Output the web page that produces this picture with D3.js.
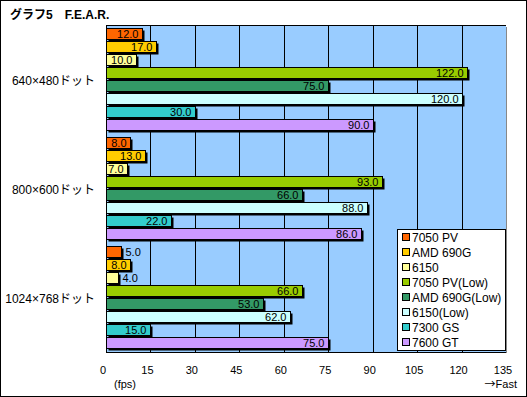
<!DOCTYPE html>
<html><head><meta charset="utf-8">
<script src="https://cdn.jsdelivr.net/npm/d3@7"></script>
<style>body{margin:0;background:#fff;}svg{display:block;}text{font-family:"Liberation Sans","Noto Sans CJK JP",sans-serif;}</style>
</head><body>
<script>
const categories = ["640×480ドット", "800×600ドット", "1024×768ドット"];
const series = ["7050 PV", "AMD 690G", "6150", "7050 PV(Low)", "AMD 690G(Low)", "6150(Low)", "7300 GS", "7600 GT"];
const colors = ["#FF6600", "#FFCC00", "#FFFF99", "#99CC00", "#339966", "#CCFFFF", "#33CCCC", "#CC99FF"];
const values = [
  [12, 17, 10, 122, 75, 120, 30, 90],
  [8, 13, 7, 93, 66, 88, 22, 86],
  [5, 8, 4, 66, 53, 62, 15, 75]
];
const tickValues = [0, 15, 30, 45, 60, 75, 90, 105, 120, 135];
const title = "グラフ5　F.E.A.R.";

const W = 527, H = 397;
const svg = d3.select("body").append("svg").attr("width", W).attr("height", H);
svg.append("rect").attr("x", 0.5).attr("y", 0.5).attr("width", W - 1).attr("height", H - 1)
  .attr("fill", "#fff").attr("stroke", "#000");

svg.append("text").attr("x", 10).attr("y", 19).attr("font-size", 12).attr("font-weight", "bold").text(title);

const x = d3.scaleLinear().domain([0, 135]).range([106, 506]);
const y = d3.scaleBand().domain(categories).range([25, 352]);
const yi = d3.scaleBand().domain(series).range([3, 105]).paddingInner(0.15).paddingOuter(0);

// plot background
svg.append("rect").attr("x", x(0)).attr("y", 25).attr("width", x(135) - x(0)).attr("height", 327).attr("fill", "#99CCFF");
// grid
svg.selectAll(".grid").data(tickValues.slice(1, -1)).enter().append("line")
  .attr("x1", d => Math.round(x(d)) + 0.5).attr("x2", d => Math.round(x(d)) + 0.5)
  .attr("y1", 25).attr("y2", 352).attr("stroke", "#000");
// frame
svg.append("line").attr("x1", x(0)).attr("x2", x(135)).attr("y1", 25.5).attr("y2", 25.5).attr("stroke", "#000");
svg.append("line").attr("x1", x(0)).attr("x2", x(135)).attr("y1", 352.5).attr("y2", 352.5).attr("stroke", "#000");
svg.append("line").attr("x1", x(0) + 0.5).attr("x2", x(0) + 0.5).attr("y1", 25).attr("y2", 353).attr("stroke", "#000");
svg.append("line").attr("x1", x(135) + 0.5).attr("x2", x(135) + 0.5).attr("y1", 27).attr("y2", 353).attr("stroke", "#888");

const groups = svg.selectAll(".g").data(categories).enter().append("g")
  .attr("transform", d => `translate(0,${y(d)})`);

groups.each(function(cat, ci) {
  const g = d3.select(this);
  series.forEach((s, si) => {
    const v = values[ci][si];
    const by = Math.round(yi(s));
    const bh = Math.round(yi.bandwidth());
    const x0 = x(0) + 0.5;
    const w = Math.round(x(v) - x(0));
    g.append("rect").attr("x", x0 + 2).attr("y", by + 2.5).attr("width", w).attr("height", bh).attr("fill", "#000");
    g.append("rect").attr("x", x0).attr("y", by + 0.5).attr("width", w).attr("height", bh)
      .attr("fill", colors[si]).attr("stroke", "#000");
    const label = v.toFixed(1);
    const t = g.append("text").attr("y", by + bh / 2 + 4.5).attr("font-size", 11).text(label);
    const tw = t.node().getComputedTextLength();
    if (tw + 4 <= w) {
      t.attr("x", x0 + w - 4).attr("text-anchor", "end");
    } else {
      t.attr("x", x0 + w + 4).attr("text-anchor", "start");
    }
  });
  g.append("text").attr("x", 95).attr("y", y.bandwidth() / 2 + 5).attr("text-anchor", "end")
    .attr("font-size", 12).text(cat);
});

// x ticks
svg.selectAll(".tick").data(tickValues).enter().append("text")
  .attr("x", d => x(d) - 3).attr("y", 374).attr("text-anchor", "middle").attr("font-size", 11).text(d => d);
svg.append("text").attr("x", 125).attr("y", 388).attr("text-anchor", "middle").attr("font-size", 11).text("(fps)");
const fast = svg.append("text").attr("x", 517).attr("y", 388).attr("text-anchor", "end").attr("font-size", 11);
fast.append("tspan").attr("font-family", "Noto Sans CJK JP").text("→");
fast.append("tspan").text("Fast");

// legend
const lg = svg.append("g");
lg.append("rect").attr("x", 397.5).attr("y", 229.5).attr("width", 108).attr("height", 121).attr("fill", "#fff").attr("stroke", "#000");
series.forEach((s, i) => {
  const cy = 237 + i * 15;
  lg.append("rect").attr("x", 402.5).attr("y", cy - 3.5).attr("width", 7).attr("height", 7).attr("fill", colors[i]).attr("stroke", "#000");
  lg.append("text").attr("x", 412).attr("y", cy + 4.5).attr("font-size", 12).text(s);
});
</script>
</body></html>
